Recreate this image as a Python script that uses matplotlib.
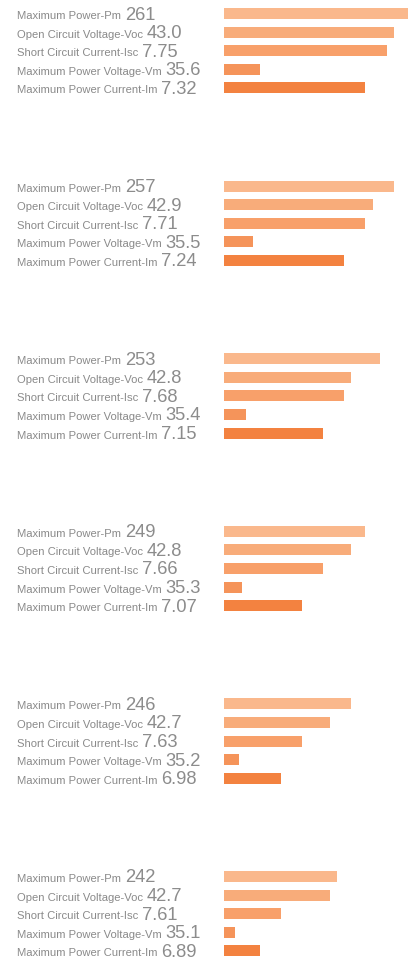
import matplotlib
matplotlib.use('Agg')
from matplotlib import pyplot as plt

matplotlib.rcParams['font.family'] = ['Liberation Sans', 'DejaVu Sans']

labels = ['Maximum Power-Pm', 'Open Circuit Voltage-Voc', 'Short Circuit Current-Isc',
          'Maximum Power Voltage-Vm', 'Maximum Power Current-Im']

# one list per panel (top to bottom), values in label order
pm = [261, 257, 253, 249, 246, 242]
voc = ['43.0', '42.9', '42.8', '42.8', '42.7', '42.7']
isc = ['7.75', '7.71', '7.68', '7.66', '7.63', '7.61']
vm = ['35.6', '35.5', '35.4', '35.3', '35.2', '35.1']
im = ['7.32', '7.24', '7.15', '7.07', '6.98', '6.89']

# bar lengths as drawn (relative score, same unit for all bars)
bar_pm = [184, 170, 156, 141, 127, 113]
bar_voc = [170, 149, 127, 127, 106, 106]
bar_isc = [163, 141, 120, 99, 78, 57]
bar_vm = [36, 29, 22, 18, 15, 11]
bar_im = [141, 120, 99, 78, 57, 36]

colors = ['#fab88c', '#f8ac7a', '#f8a06a', '#f5945a', '#f38240']

W, H = 415, 962
fig = plt.figure(figsize=(W / 100, H / 100), dpi=100)
ax = fig.add_axes([0, 0, 1, 1])
ax.set_xlim(0, W)
ax.set_ylim(H, 0)
ax.axis('off')
renderer = fig.canvas.get_renderer()

top = 14.5        # centre of first bar
group_gap = 172.6
row_gap = 18.6
bar_x0 = 224
text_x = 17
gap = 4

values = list(zip(pm, voc, isc, vm, im))
bars = list(zip(bar_pm, bar_voc, bar_isc, bar_vm, bar_im))

for g in range(len(pm)):
    for r in range(len(labels)):
        y = top + g * group_gap + r * row_gap
        ax.barh(y, bars[g][r], left=bar_x0, height=11, color=colors[r], linewidth=0)
        t = ax.text(text_x, y + 4.5, labels[r], fontsize=8.1, color='#8a8a8a',
                    va='baseline', ha='left')
        x_end = ax.transData.inverted().transform(t.get_window_extent(renderer))[1][0]
        ax.text(x_end + gap, y + 5, str(values[g][r]), fontsize=13.2,
                color='#8c8c8c', va='baseline', ha='left')

fig.savefig('out.png', dpi=100)
